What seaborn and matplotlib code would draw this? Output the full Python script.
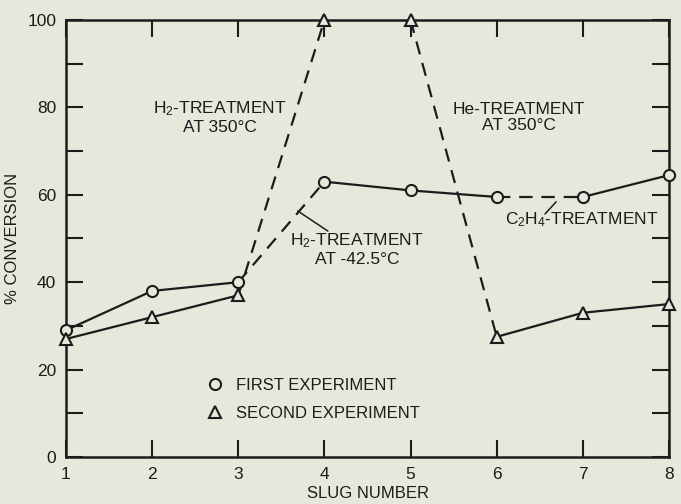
import numpy as np
import matplotlib
matplotlib.use("Agg")
import matplotlib.pyplot as plt
import seaborn as sns
from matplotlib.lines import Line2D

# data
slug = [1, 2, 3, 4, 5, 6, 7, 8]
first_exp = [29, 38, 40, 63, 61, 59.5, 59.5, 64.5]
second_exp = [27, 32, 37, 100, 100, 27.5, 33, 35]

# which segments are drawn solid / dashed (start index, end index inclusive)
first_solid = [(0, 2), (3, 5), (6, 7)]
first_dashed = [(2, 3), (5, 6)]
second_solid = [(0, 2), (3, 4), (5, 7)]
second_dashed = [(2, 3), (4, 5)]

bg = "#e6e8dc"
ink = "#1c1c1c"

sns.set_style("ticks")
plt.rcParams['font.family'] = ['Liberation Sans', 'DejaVu Sans']
plt.rcParams['mathtext.default'] = 'regular'

fig = plt.figure(figsize=(6.81, 5.04), dpi=100, facecolor=bg)
ax = fig.add_axes([0.0969, 0.0933, 0.8855, 0.867])
ax.set_facecolor(bg)


def draw_segments(y, segs, ls):
    for a, b in segs:
        sns.lineplot(x=slug[a:b + 1], y=y[a:b + 1], ax=ax, color=ink, lw=1.6,
                     linestyle=ls, sort=False)
        if ls != '-':
            ax.lines[-1].set_dashes([6, 4])


draw_segments(first_exp, first_solid, '-')
draw_segments(first_exp, first_dashed, '--')
draw_segments(second_exp, second_solid, '-')
draw_segments(second_exp, second_dashed, '--')

ax.plot(slug, first_exp, 'o', ms=8, mfc=bg, mec=ink, mew=1.5, clip_on=False, zorder=5)
ax.plot(slug, second_exp, '^', ms=8.5, mfc=bg, mec=ink, mew=1.5, clip_on=False, zorder=5)

ax.set_xlim(1, 8)
ax.set_ylim(0, 100)
ax.set_xticks(slug)
ax.set_xticklabels([str(s) for s in slug])
ax.set_yticks([0, 20, 40, 60, 80, 100])
ax.set_yticks([10, 30, 50, 70, 90], minor=True)
ax.tick_params(which='both', direction='in', length=12, width=1.5, color=ink,
               top=True, right=True, labelsize=12.5, labelcolor=ink, pad=7)
for s in ax.spines.values():
    s.set_linewidth(1.8)
    s.set_color(ink)

ax.set_xlabel("SLUG NUMBER", fontsize=12, color=ink, labelpad=3)
ax.set_ylabel("% CONVERSION", fontsize=12, color=ink, labelpad=5)

txt = dict(fontsize=12.5, color=ink, ha='center', va='center', linespacing=1.15)
ax.text(2.79, 77.7, "H$_2$-TREATMENT\nAT 350°C", **txt)
ax.text(6.26, 77.7, "He-TREATMENT\nAT 350°C", **txt)
ax.text(4.38, 47.6, "H$_2$-TREATMENT\nAT -42.5°C", **txt)
ax.text(6.99, 54.3, "C$_2$H$_4$-TREATMENT", **txt)
ax.plot([3.69, 4.04], [56.3, 51.7], color=ink, lw=1.1)
ax.plot([6.69, 6.56], [58.4, 55.6], color=ink, lw=1.1)

handles = [
    Line2D([], [], marker='o', ls='', ms=8, mfc=bg, mec=ink, mew=1.5),
    Line2D([], [], marker='^', ls='', ms=8.5, mfc=bg, mec=ink, mew=1.5),
]
leg = ax.legend(handles, ["FIRST EXPERIMENT", "SECOND EXPERIMENT"], frameon=False,
                loc='upper left', bbox_to_anchor=(0.205, 0.215), fontsize=12,
                handletextpad=0.7, labelspacing=0.75, handlelength=1.2)
for t in leg.get_texts():
    t.set_color(ink)

fig.savefig("out.png", dpi=100, facecolor=bg)
